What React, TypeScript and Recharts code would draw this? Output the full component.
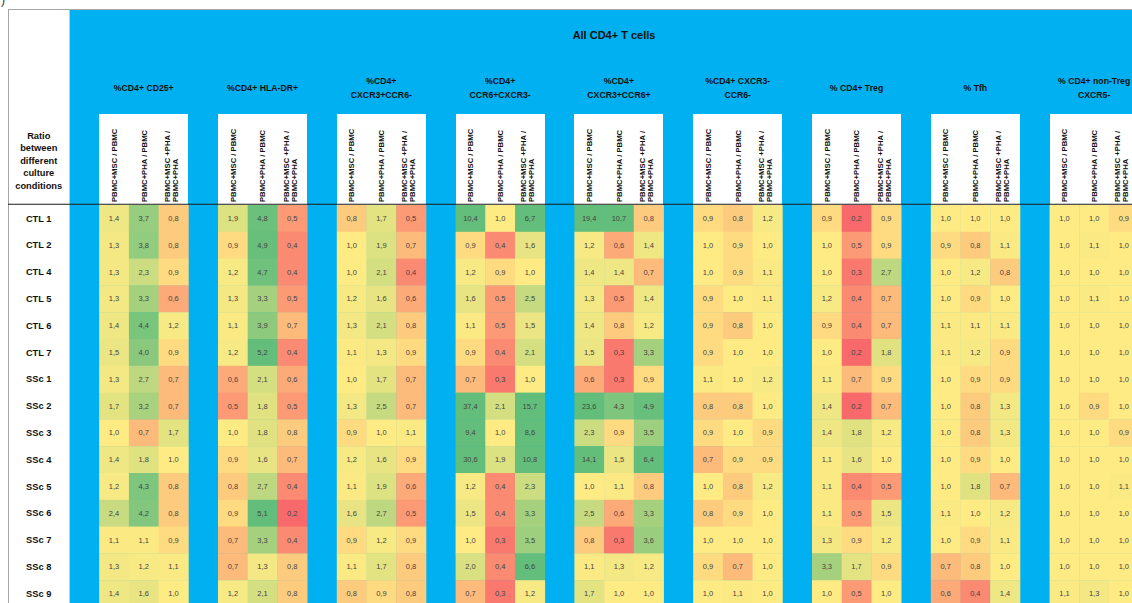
import React from 'react';
import { ScatterChart, Scatter, XAxis, YAxis, Customized } from 'recharts';

// Row (donor) labels
const rowLabels = [
  'CTL 1', 'CTL 2', 'CTL 4', 'CTL 5', 'CTL 6', 'CTL 7',
  'SSc 1', 'SSc 2', 'SSc 3', 'SSc 4', 'SSc 5', 'SSc 6', 'SSc 7', 'SSc 8', 'SSc 9',
];

// Ratio column headers (each entry split into its printed lines)
const ratioLabels = [
  ['PBMC+MSC / PBMC'],
  ['PBMC+PHA / PBMC'],
  ['PBMC+MSC +PHA /', 'PBMC+PHA'],
];

// Population group titles
const groupTitles = [
  ['%CD4+ CD25+'],
  ['%CD4+ HLA-DR+'],
  ['%CD4+', 'CXCR3+CCR6-'],
  ['%CD4+', 'CCR6+CXCR3-'],
  ['%CD4+', 'CXCR3+CCR6+'],
  ['%CD4+ CXCR3-', 'CCR6-'],
  ['% CD4+ Treg'],
  ['% Tfh'],
  ['% CD4+ non-Treg', 'CXCR5-'],
];

const superTitle = 'All CD4+ T cells';
const cornerLabel = ['Ratio', 'between', 'different', 'culture', 'conditions'];

// Ratios per donor: [PBMC+MSC/PBMC, PBMC+PHA/PBMC, PBMC+MSC+PHA/PBMC+PHA]
const cd25 = [
  [1.4, 3.7, 0.8], [1.3, 3.8, 0.8], [1.3, 2.3, 0.9], [1.3, 3.3, 0.6], [1.4, 4.4, 1.2],
  [1.5, 4.0, 0.9], [1.3, 2.7, 0.7], [1.7, 3.2, 0.7], [1.0, 0.7, 1.7], [1.4, 1.8, 1.0],
  [1.2, 4.3, 0.8], [2.4, 4.2, 0.8], [1.1, 1.1, 0.9], [1.3, 1.2, 1.1], [1.4, 1.6, 1.0],
];
const hlaDr = [
  [1.9, 4.8, 0.5], [0.9, 4.9, 0.4], [1.2, 4.7, 0.4], [1.3, 3.3, 0.5], [1.1, 3.9, 0.7],
  [1.2, 5.2, 0.4], [0.6, 2.1, 0.6], [0.5, 1.8, 0.5], [1.0, 1.8, 0.8], [0.9, 1.6, 0.7],
  [0.8, 2.7, 0.4], [0.9, 5.1, 0.2], [0.7, 3.3, 0.4], [0.7, 1.3, 0.8], [1.2, 2.1, 0.8],
];
const th1 = [
  [0.8, 1.7, 0.5], [1.0, 1.9, 0.7], [1.0, 2.1, 0.4], [1.2, 1.6, 0.6], [1.3, 2.1, 0.8],
  [1.1, 1.3, 0.9], [1.0, 1.7, 0.7], [1.3, 2.5, 0.7], [0.9, 1.0, 1.1], [1.2, 1.6, 0.9],
  [1.1, 1.9, 0.6], [1.6, 2.7, 0.5], [0.9, 1.2, 0.9], [1.1, 1.7, 0.8], [0.8, 0.9, 0.8],
];
const th17 = [
  [10.4, 1.0, 6.7], [0.9, 0.4, 1.6], [1.2, 0.9, 1.0], [1.6, 0.5, 2.5], [1.1, 0.5, 1.5],
  [0.9, 0.4, 2.1], [0.7, 0.3, 1.0], [37.4, 2.1, 15.7], [9.4, 1.0, 8.6], [30.6, 1.9, 10.8],
  [1.2, 0.4, 2.3], [1.5, 0.4, 3.3], [1.0, 0.3, 3.5], [2.0, 0.4, 6.6], [0.7, 0.3, 1.2],
];
const th1th17 = [
  [19.4, 10.7, 0.8], [1.2, 0.6, 1.4], [1.4, 1.4, 0.7], [1.3, 0.5, 1.4], [1.4, 0.8, 1.2],
  [1.5, 0.3, 3.3], [0.6, 0.3, 0.9], [23.6, 4.3, 4.9], [2.3, 0.9, 3.5], [14.1, 1.5, 6.4],
  [1.0, 1.1, 0.8], [2.5, 0.6, 3.3], [0.8, 0.3, 3.6], [1.1, 1.3, 1.2], [1.7, 1.0, 1.0],
];
const doubleNeg = [
  [0.9, 0.8, 1.2], [1.0, 0.9, 1.0], [1.0, 0.9, 1.1], [0.9, 1.0, 1.1], [0.9, 0.8, 1.0],
  [0.9, 1.0, 1.0], [1.1, 1.0, 1.2], [0.8, 0.8, 1.0], [0.9, 1.0, 0.9], [0.7, 0.9, 0.9],
  [1.0, 0.8, 1.2], [0.8, 0.9, 1.0], [1.0, 1.0, 1.0], [0.9, 0.7, 1.0], [1.0, 1.1, 1.0],
];
const treg = [
  [0.9, 0.2, 0.9], [1.0, 0.5, 0.9], [1.0, 0.3, 2.7], [1.2, 0.4, 0.7], [0.9, 0.4, 0.7],
  [1.0, 0.2, 1.8], [1.1, 0.7, 0.9], [1.4, 0.2, 0.7], [1.4, 1.8, 1.2], [1.1, 1.6, 1.0],
  [1.1, 0.4, 0.5], [1.1, 0.5, 1.5], [1.3, 0.9, 1.2], [3.3, 1.7, 0.9], [1.0, 0.5, 1.0],
];
const tfh = [
  [1.0, 1.0, 1.0], [0.9, 0.8, 1.1], [1.0, 1.2, 0.8], [1.0, 0.9, 1.0], [1.1, 1.1, 1.1],
  [1.1, 1.2, 0.9], [1.0, 0.9, 0.9], [1.0, 0.8, 1.3], [1.0, 0.8, 1.3], [1.0, 0.9, 1.0],
  [1.0, 1.8, 0.7], [1.1, 1.0, 1.2], [1.0, 0.9, 1.1], [0.7, 0.8, 1.0], [0.6, 0.4, 1.4],
];
const nonTregCxcr5Neg = [
  [1.0, 1.0, 0.9], [1.0, 1.1, 1.0], [1.0, 1.0, 1.0], [1.0, 1.1, 1.0], [1.0, 1.0, 1.0],
  [1.0, 1.0, 1.0], [1.0, 1.0, 1.0], [1.0, 0.9, 1.0], [1.0, 1.0, 0.9], [1.0, 1.0, 1.0],
  [1.0, 1.0, 1.1], [1.0, 1.0, 1.0], [1.0, 1.0, 1.0], [1.0, 1.0, 1.0], [1.1, 1.3, 1.0],
];

const groupValues = [cd25, hlaDr, th1, th17, th1th17, doubleNeg, treg, tfh, nonTregCxcr5Neg];

// Layout: each group takes one blue spacer column + three ratio columns
const FONT = '"Liberation Sans", Arial, Helvetica, sans-serif';
const FRAME_X = 8;
const FRAME_Y = 9;
const LABEL_W = 61.5;
const COL_W = 29.7;
const N_COLS = groupValues.length * 4;
const ROW_H = 26.8;
const N_ROWS = rowLabels.length;
const HEAD_TOP = 115;
const HEAD_H = 90;
const PLOT_LEFT = FRAME_X + LABEL_W;
const PLOT_TOP = HEAD_TOP + HEAD_H;
const CHART_W = PLOT_LEFT + N_COLS * COL_W;
const CHART_H = PLOT_TOP + N_ROWS * ROW_H;
const BLUE = '#00B0F0';

type Cell = { x: number; y: number; v: number };

const cells: Cell[] = [];
groupValues.forEach((rows, g) => {
  rows.forEach((triple, r) => {
    triple.forEach((v, j) => {
      cells.push({ x: g * 4 + 1 + j + 0.5, y: r + 0.5, v });
    });
  });
});

const colTicks: number[] = [];
groupValues.forEach((_, g) => {
  for (let j = 0; j < 3; j++) colTicks.push(g * 4 + 1 + j + 0.5);
});
const rowTicks = rowLabels.map((_, r) => r + 0.5);

// Red – yellow – green colour scale centred on a ratio of 1
const RED = [248, 105, 107];
const YEL = [255, 235, 132];
const GRN = [99, 190, 123];
function heat(v: number): string {
  let t: number;
  let to: number[];
  if (v < 1) {
    t = Math.min(1, (1 - v) / 0.8);
    to = RED;
  } else {
    t = Math.min(1, (v - 1) / 4);
    to = GRN;
  }
  const c = YEL.map((a, i) => Math.round(a + (to[i] - a) * t));
  return `rgb(${c[0]},${c[1]},${c[2]})`;
}
const fmt = (v: number) => v.toFixed(1).replace('.', ',');

const cellW = (CHART_W - PLOT_LEFT) / N_COLS;
const cellH = (CHART_H - PLOT_TOP) / N_ROWS;

const renderCell = (props: any) => {
  const { cx, cy, payload } = props;
  return (
    <g>
      <rect
        x={cx - cellW / 2}
        y={cy - cellH / 2}
        width={cellW + 0.4}
        height={cellH + 0.4}
        fill={heat(payload.v)}
      />
      <text
        x={cx}
        y={cy + 2.7}
        textAnchor="middle"
        fontFamily={FONT}
        fontSize={7.5}
        fill="#444"
      >
        {fmt(payload.v)}
      </text>
    </g>
  );
};

const RatioTick = (props: any) => {
  const { x, payload } = props;
  const k = Math.round(payload.value - 0.5);
  const lines = ratioLabels[(k % 4) - 1];
  const base = PLOT_TOP - 3;
  const offsets = lines.length === 1 ? [0] : [-6.5, 1.5];
  return (
    <g>
      {lines.map((line, i) => {
        const px = x + offsets[i] + 2.8;
        return (
          <text
            key={i}
            x={px}
            y={base}
            transform={`rotate(-90 ${px} ${base})`}
            fontFamily={FONT}
            fontSize={7.7}
            fontWeight="bold"
            fill="#111"
          >
            {line}
          </text>
        );
      })}
    </g>
  );
};

const DonorTick = (props: any) => {
  const { y, payload } = props;
  const r = Math.round(payload.value - 0.5);
  return (
    <text
      x={FRAME_X + LABEL_W / 2}
      y={y + 3.3}
      textAnchor="middle"
      fontFamily={FONT}
      fontSize={9.3}
      fontWeight="bold"
      fill="#111"
    >
      {rowLabels[r]}
    </text>
  );
};

const HeaderLayer = () => (
  <g>
    <text x={1} y={4} fontFamily={FONT} fontSize={12} fill="#333">)</text>
    <text
      x={614}
      y={39}
      textAnchor="middle"
      fontFamily={FONT}
      fontSize={11}
      fontWeight="bold"
      fill="#111"
    >
      {superTitle}
    </text>
    {groupTitles.map((lines, g) => {
      const cx = PLOT_LEFT + (g * 4 + 1) * COL_W + 1.5 * COL_W;
      const ys = lines.length === 1 ? [91.2] : [84.2, 98.4];
      return lines.map((line, i) => (
        <text
          key={`${g}-${i}`}
          x={cx}
          y={ys[i]}
          textAnchor="middle"
          fontFamily={FONT}
          fontSize={8.7}
          fontWeight="bold"
          fill="#111"
        >
          {line}
        </text>
      ));
    })}
    {cornerLabel.map((line, i) => (
      <text
        key={line}
        x={FRAME_X + LABEL_W / 2}
        y={139 + i * 12.4}
        textAnchor="middle"
        fontFamily={FONT}
        fontSize={9.3}
        fontWeight="bold"
        fill="#111"
      >
        {line}
      </text>
    ))}
    <line x1={FRAME_X} x2={CHART_W} y1={PLOT_TOP - 0.8} y2={PLOT_TOP - 0.8} stroke="#1a1a1a" strokeWidth={1.1} />
  </g>
);

export default function App() {
  return (
    <div
      style={{
        position: 'absolute',
        left: 0,
        top: 0,
        width: 1132,
        height: 603,
        overflow: 'hidden',
        background: '#fff',
      }}
    >
      {/* blue table body */}
      <div
        style={{
          position: 'absolute',
          left: PLOT_LEFT,
          top: FRAME_Y,
          width: CHART_W - PLOT_LEFT,
          height: 603 - FRAME_Y,
          background: BLUE,
        }}
      />
      {/* white label column with frame */}
      <div
        style={{
          position: 'absolute',
          left: FRAME_X,
          top: FRAME_Y,
          width: LABEL_W,
          height: 603 - FRAME_Y,
          background: '#fff',
          borderLeft: '1px solid #a6a6a6',
          borderRight: '1px solid #c8c8c8',
          boxSizing: 'border-box',
        }}
      />
      <div
        style={{
          position: 'absolute',
          left: FRAME_X,
          top: FRAME_Y,
          width: 1132 - FRAME_X,
          height: 1,
          background: '#a6a6a6',
        }}
      />
      {/* white header boxes behind the ratio labels */}
      {groupValues.map((_, g) => (
        <div
          key={g}
          style={{
            position: 'absolute',
            left: PLOT_LEFT + (g * 4 + 1) * COL_W,
            top: HEAD_TOP - 1,
            width: 3 * COL_W,
            height: HEAD_H + 1,
            background: '#fff',
          }}
        />
      ))}
      <div style={{ position: 'absolute', left: 0, top: 0 }}>
        <ScatterChart
          width={CHART_W}
          height={CHART_H}
          margin={{ top: HEAD_TOP, right: 0, bottom: 0, left: FRAME_X }}
        >
          <XAxis
            type="number"
            dataKey="x"
            orientation="top"
            domain={[0, N_COLS]}
            ticks={colTicks}
            interval={0}
            height={HEAD_H}
            axisLine={false}
            tickLine={false}
            tick={<RatioTick />}
          />
          <YAxis
            type="number"
            dataKey="y"
            domain={[0, N_ROWS]}
            reversed
            ticks={rowTicks}
            interval={0}
            width={LABEL_W}
            axisLine={false}
            tickLine={false}
            tick={<DonorTick />}
          />
          <Scatter data={cells} shape={renderCell} isAnimationActive={false} />
          <Customized component={<HeaderLayer />} />
        </ScatterChart>
      </div>
    </div>
  );
}
